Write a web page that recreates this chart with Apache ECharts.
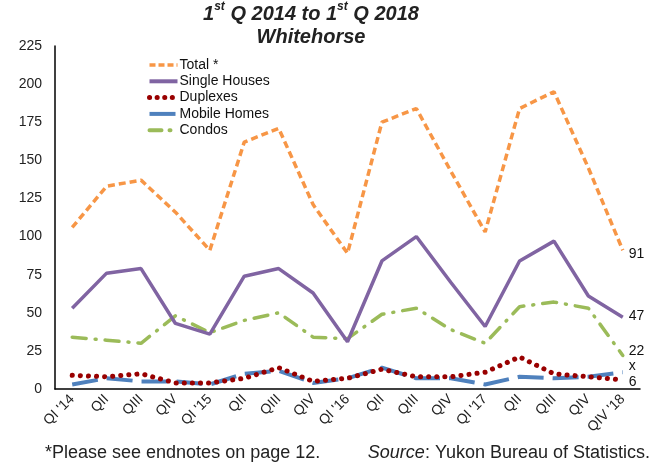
<!DOCTYPE html>
<html><head><meta charset="utf-8">
<script src="https://cdn.jsdelivr.net/npm/echarts@6/dist/echarts.min.js"></script>
<style>html,body{margin:0;padding:0;background:#fff}#c{width:650px;height:465px}</style>
</head><body><div id="c"></div>
<script>
var categories = ["QI '14","QII","QIII","QIV","QI '15","QII","QIII","QIV","QI '16","QII","QIII","QIV","QI '17","QII","QIII","QIV","QIV '18"];
var total   = [106,133,137,116,91,162,171,121,89,175,184,143,103,184,195,145,91];
var single  = [53,76,79,43,36,74,79,63,31,84,100,70,41,84,97,61,47];
var duplex  = [9,8,10,4,4,7,14,5,7,13,8,8,11,21,10,8,6];
var mobile  = [3,7,5,5,3,10,12,4,7,14,7,7,3,8,7,8,11];
var condos  = [34,32,30,48,37,45,50,34,33,49,53,39,30,54,57,53,22];
var endLabels = {total:"91", single:"47", condos:"22", mobile:"x", duplex:"6"};
var yTicks = [0,25,50,75,100,125,150,175,200,225];

var FONT = "'Liberation Sans', Arial, sans-serif";
var chart = echarts.init(document.getElementById('c'));
function endLab(t, dy){
  return {show:true, formatter:t, color:'#111', fontFamily:FONT, fontSize:14, distance:6, offset:[0,dy]};
}
chart.setOption({
  animation:false,
  backgroundColor:'#fff',
  grid:{left:55, right:10, top:46, bottom:76, containLabel:false},
  graphic:[
    {type:'text', x:311, y:1, style:{
      textAlign:'center',
      text:'{a|1}{s|st}{a| Q 2014 to 1}{s|st}{a| Q 2018}',
      rich:{a:{fontFamily:FONT,fontSize:20,fontWeight:'bold',fontStyle:'italic',fill:'#222',verticalAlign:'bottom',lineHeight:23},
            s:{fontFamily:FONT,fontSize:12,fontWeight:'bold',fontStyle:'italic',fill:'#222',verticalAlign:'top',lineHeight:23,padding:[0,0,8,0]}}
    }},
    {type:'text', x:311, y:27, style:{text:'Whitehorse', fontFamily:FONT, fontSize:20, fontWeight:'bold', fontStyle:'italic', fill:'#222', textAlign:'center'}},
    {type:'text', x:45, y:444, style:{text:'*Please see endnotes on page 12.', fontFamily:FONT, fontSize:18, fill:'#222'}},
    {type:'text', x:650, y:444, style:{
      textAlign:'right',
      text:'{i|Source}{n|: Yukon Bureau of Statistics.}',
      rich:{i:{fontFamily:FONT,fontSize:18,fontStyle:'italic',fill:'#222'},n:{fontFamily:FONT,fontSize:18,fill:'#222'}}
    }}
  ],
  legend:{
    orient:'vertical', left:147, top:58, padding:0, itemGap:2.3, itemWidth:28, itemHeight:14,
    itemStyle:{opacity:0},
    lineStyle:{width:4},
    textStyle:{fontFamily:FONT, fontSize:14, color:'#111', padding:[0,0,0,-3]},
    data:[
      {name:'Total *', lineStyle:{width:3.5, type:[6,3]}},
      {name:'Single Houses', lineStyle:{width:4}},
      {name:'Duplexes', lineStyle:{width:5, type:[0.1,7.5], cap:'round'}},
      {name:'Mobile Homes', lineStyle:{width:4}},
      {name:'Condos', lineStyle:{width:4, type:[12,8,1,8], cap:'round'}}
    ]
  },
  xAxis:{
    type:'category', data:categories, boundaryGap:true,
    axisLine:{lineStyle:{color:'#000', width:1.5}},
    axisTick:{show:false},
    axisLabel:{rotate:45, interval:0, fontFamily:FONT, fontSize:14, color:'#222', margin:8}
  },
  yAxis:{
    type:'value', min:0, max:225, interval:25,
    axisLine:{show:true, lineStyle:{color:'#000', width:1.5}},
    axisTick:{show:false}, splitLine:{show:false},
    axisLabel:{fontFamily:FONT, fontSize:14, color:'#222', margin:13,
      formatter:function(v){return yTicks.indexOf(v)>=0? String(v):'';}}
  },
  series:[
    {name:'Total *', type:'line', data:total, symbol:'none', z:5,
     lineStyle:{color:'#F79646', width:3.5, type:[7,4]}, itemStyle:{color:'#F79646'},
     endLabel:endLab(endLabels.total,4)},
    {name:'Single Houses', type:'line', data:single, symbol:'none', z:4,
     lineStyle:{color:'#8064A2', width:3.5}, itemStyle:{color:'#8064A2'},
     endLabel:endLab(endLabels.single,-1)},
    {name:'Duplexes', type:'line', data:duplex, symbol:'none', z:3,
     lineStyle:{color:'#990000', width:5, type:[0.1,8], cap:'round'}, itemStyle:{color:'#990000'},
     endLabel:endLab(endLabels.duplex,2)},
    {name:'Mobile Homes', type:'line', data:mobile, symbol:'none', z:2,
     lineStyle:{color:'#4F81BD', width:4, type:[26,9]}, itemStyle:{color:'#4F81BD'},
     endLabel:endLab(endLabels.mobile,-6)},
    {name:'Condos', type:'line', data:condos, symbol:'none', z:1,
     lineStyle:{color:'#9BBB59', width:3.5, type:[14,9,1,9], cap:'round'}, itemStyle:{color:'#9BBB59'},
     endLabel:endLab(endLabels.condos,-4)}
  ]
});
</script></body></html>
